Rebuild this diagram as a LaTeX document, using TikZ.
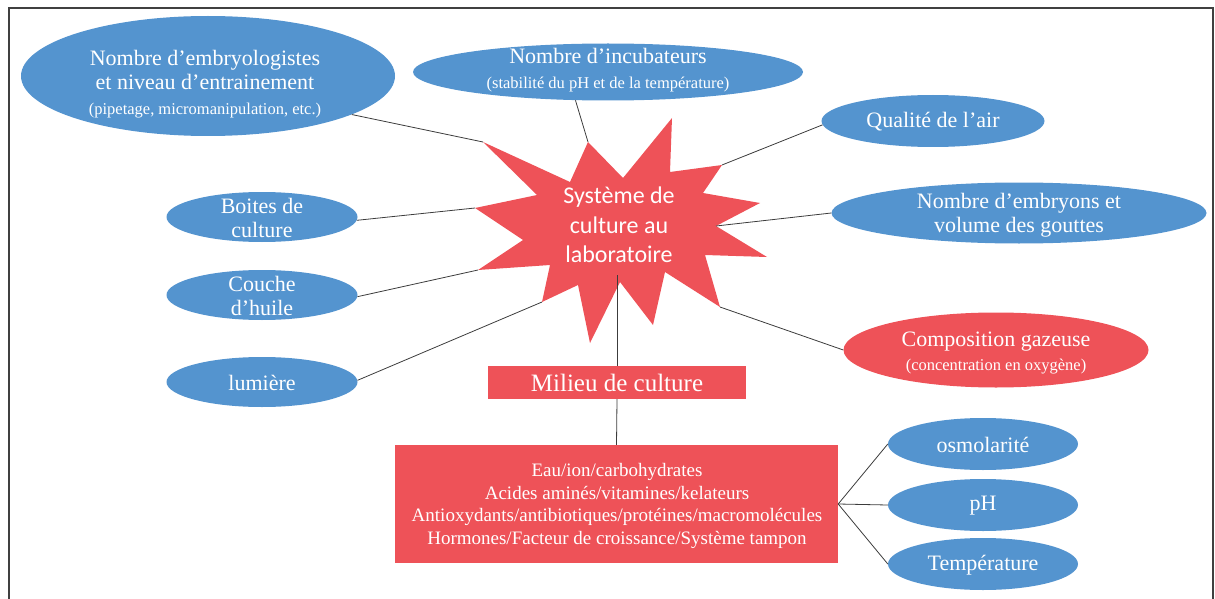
\documentclass[tikz,border=0pt]{standalone}
\usepackage{fontspec}
\setmainfont{Liberation Serif}
\newfontfamily\starfont{Carlito}
\usetikzlibrary{shapes.geometric}
\definecolor{bellblue}{RGB}{84,148,207}
\definecolor{bellred}{RGB}{238,82,88}
\definecolor{connc}{RGB}{60,60,60}
\tikzset{
  bell/.style={ellipse, fill=bellblue, draw=none, inner sep=0pt},
  redbell/.style={ellipse, fill=bellred, draw=none, inner sep=0pt},
  redbox/.style={rectangle, fill=bellred, draw=none, inner sep=0pt},
  txt/.style={text=white, align=center, inner sep=0pt, font=\fontsize{22}{24.5}\selectfont},
  conn/.style={draw=connc, line width=0.8pt},
}
\newcommand{\sm}[1]{{\fontsize{16.5}{19.5}\selectfont #1}}
\begin{document}
\begin{tikzpicture}[x=1pt,y=-1pt]
\useasboundingbox (0,0) rectangle (1215,599);
% frame
\draw[line width=1.4pt, black!75] (9,599) -- (9,8) -- (1213,8) -- (1213,599);

% ellipses
\node[bell, minimum width=374pt, minimum height=120pt] (emb) at (208,76) {};
\node[bell, minimum width=390pt, minimum height=57pt] (inc) at (608,72) {};
\node[bell, minimum width=223pt, minimum height=52pt] (qual) at (933,121) {};
\node[bell, minimum width=375pt, minimum height=61pt] (nemb) at (1019,213) {};
\node[bell, minimum width=191pt, minimum height=50pt] (boi) at (262,217) {};
\node[bell, minimum width=191pt, minimum height=50pt] (huile) at (262,295) {};
\node[bell, minimum width=191pt, minimum height=50pt] (lum) at (262,382) {};
\node[redbell, minimum width=305pt, minimum height=75pt] (gaz) at (996,350) {};
\node[bell, minimum width=190pt, minimum height=52pt] (osm) at (983,444) {};
\node[bell, minimum width=190pt, minimum height=52pt] (ph) at (983,505) {};
\node[bell, minimum width=190pt, minimum height=52pt] (temp) at (983,564) {};

% boxes
\node[redbox, minimum width=258pt, minimum height=33pt] (mil) at (617,382.5) {};
\node[redbox, minimum width=443pt, minimum height=118pt] (comp) at (616.5,504) {};

% star vertices
\coordinate (sA) at (483,142);
\coordinate (sa) at (570,182);
\coordinate (sB) at (588,142);
\coordinate (sb) at (623,178);
\coordinate (sC) at (672,118);
\coordinate (sc) at (670,172);
\coordinate (sD) at (722,165);
\coordinate (sd) at (703,193);
\coordinate (sE) at (760,203);
\coordinate (se) at (716,226);
\coordinate (sF) at (767,257);
\coordinate (sf) at (705,255);
\coordinate (sG) at (720,307);
\coordinate (sg) at (665,272);
\coordinate (sH) at (653,325);
\coordinate (sh) at (620,282);
\coordinate (sI) at (590,343);
\coordinate (si) at (578,285);
\coordinate (sJ) at (542,302);
\coordinate (sj) at (550,265);
\coordinate (sK) at (478,270);
\coordinate (sk) at (523,240);
\coordinate (sL) at (475,208);
\coordinate (sl) at (537,195);
\coordinate (sbot) at (617,275);
\fill[bellred] (sA) -- (sa) -- (sB) -- (sb) -- (sC) -- (sc) -- (sD) -- (sd) -- (sE) -- (se) -- (sF) -- (sf) -- (sG) -- (sg) -- (sH) -- (sh) -- (sI) -- (si) -- (sJ) -- (sj) -- (sK) -- (sk) -- (sL) -- (sl) -- cycle;

% texts
\node[txt] (embT) at (205,84) {Nombre d'embryologistes\\et niveau d'entrainement\\\sm{(pipetage, micromanipulation, etc.)}};
\node[txt] (incT) at (608,70) {Nombre d'incubateurs\\\sm{(stabilité du pH et de la température)}};
\node[txt] (qualT) at (933,122) {Qualité de l'air};
\node[txt] (nembT) at (1019,215) {Nombre d'embryons et\\volume des gouttes};
\node[txt] (boiT) at (262,218) {Boites de\\culture};
\node[txt] (huileT) at (262,296) {Couche\\d'huile};
\node[txt] (lumT) at (262,383) {lumière};
\node[txt] (gazT) at (996,353) {Composition gazeuse\\\sm{(concentration en oxygène)}};
\node[txt] (osmT) at (983,445) {osmolarité};
\node[txt] (phT) at (983,506) {pH};
\node[txt] (tempT) at (983,565) {Température};
\node[txt, font=\fontsize{25}{28}\selectfont] (milT) at (617,383) {Milieu de culture};
\node[txt, font=\fontsize{19}{22.7}\selectfont] (compT) at (617,506) {Eau/ion/carbohydrates\\Acides aminés/vitamines/kelateurs\\Antioxydants/antibiotiques/protéines/macromolécules\\Hormones/Facteur de croissance/Système tampon};
\node[txt, font=\starfont\fontsize{24}{29.5}\selectfont] (starT) at (619,225) {Système de\\culture au\\laboratoire};

% connectors
\draw[conn] (emb.-15) -- (sA);
\draw[conn] (inc.-139.7) -- (sB);
\draw[conn] (qual.182) -- (sD);
\draw[conn] (nemb.180) -- (se);
\draw[conn] (gaz.180) -- (sG);
\draw[conn] (boi.-2) -- (sL);
\draw[conn] (huile.-1) -- (sK);
\draw[conn] (lum.1) -- (sJ);
\draw[conn] (sbot) -- (mil.north);
\draw[conn] (mil.south) -- (comp.north);
\draw[conn] (comp.east) -- (osm.west);
\draw[conn] (comp.east) -- (ph.west);
\draw[conn] (comp.east) -- (temp.west);
\end{tikzpicture}
\end{document}
